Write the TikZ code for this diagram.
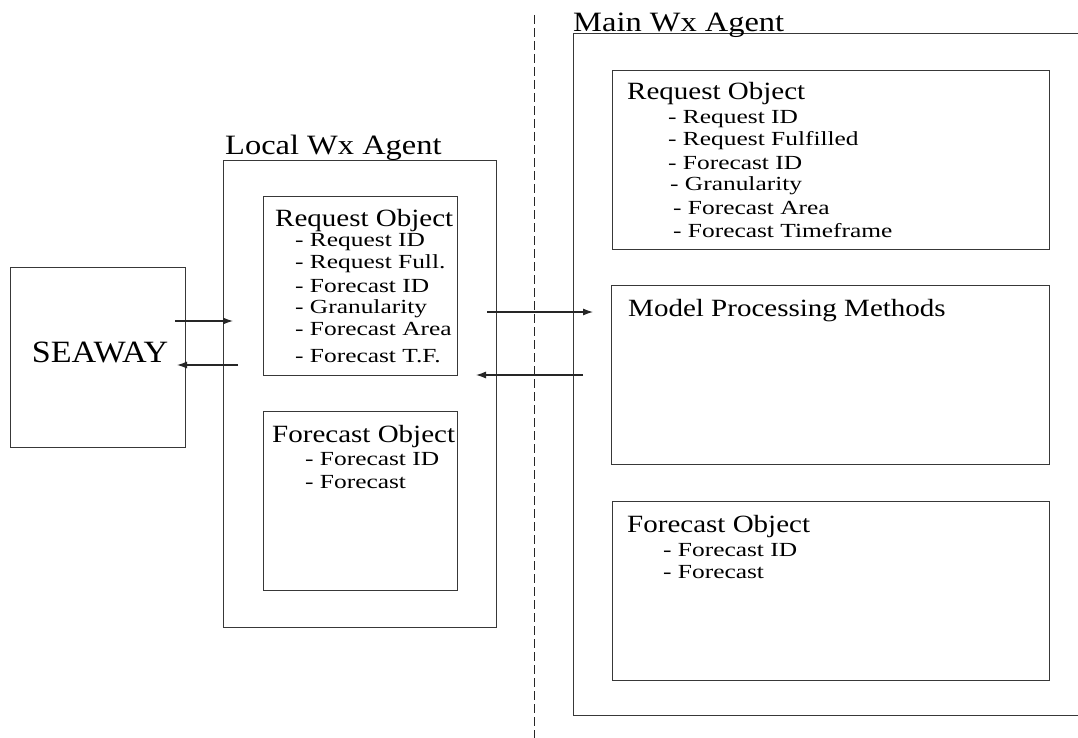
\documentclass[tikz,border=0pt]{standalone}
\usepackage{fontspec}
\setmainfont{Liberation Serif}
\newfontfamily\titlef[FakeStretch=1.16]{Liberation Serif}
\newfontfamily\headf[FakeStretch=1.17]{Liberation Serif}
\newfontfamily\itemf[FakeStretch=1.27]{Liberation Serif}
\newfontfamily\seaf[FakeStretch=1.1]{Liberation Serif}
\usetikzlibrary{arrows.meta}
\begin{document}
\begin{tikzpicture}[x=1pt,y=-1pt,
  boxn/.style={draw=black!78, line width=1.1pt, inner sep=0pt, anchor=north west},
  ttl/.style={anchor=base west, inner sep=0pt, font=\titlef\fontsize{28}{31}\selectfont},
  hd/.style={anchor=base west, inner sep=0pt, font=\headf\fontsize{24.8}{27}\selectfont},
  itm/.style={anchor=base west, inner sep=0pt, font=\itemf\fontsize{20}{22}\selectfont},
  sea/.style={anchor=base, inner sep=0pt, font=\seaf\fontsize{31}{34}\selectfont},
  conn/.style={draw=black!85, line width=1.1pt, -{Latex[length=10pt,width=7pt]}},
  divider/.style={draw=black!85, line width=1pt, dash pattern=on 9pt off 4pt}]

\useasboundingbox (0,0) rectangle (1078,738);
\clip (0,0) rectangle (1078,738);
\fill[white] (0,0) rectangle (1078,738);

% SEAWAY
\node[boxn, minimum width=175pt, minimum height=180pt] (seaway) at (10,267) {};
\node[sea] (seawaytext) at (100,362) {SEAWAY};

% Local Wx Agent
\node[boxn, minimum width=273pt, minimum height=467pt] (local) at (223,160) {};
\node[ttl] (localtitle) at (225,155) {Local Wx Agent};
\node[boxn, minimum width=194pt, minimum height=179pt] (localreq) at (263,196) {};
\node[hd] (lrh) at (275,226) {Request Object};
\node[itm] (lr1) at (295,246) {- Request ID};
\node[itm] (lr2) at (295,268) {- Request Full.};
\node[itm] (lr3) at (295,292) {- Forecast ID};
\node[itm] (lr4) at (295,313) {- Granularity};
\node[itm] (lr5) at (295,335) {- Forecast Area};
\node[itm] (lr6) at (295,362) {- Forecast T.F.};
\node[boxn, minimum width=194pt, minimum height=179pt] (localfc) at (263,411) {};
\node[hd] (lfh) at (272,442) {Forecast Object};
\node[itm] (lf1) at (305,465) {- Forecast ID};
\node[itm] (lf2) at (305,488) {- Forecast};

% divider
\coordinate (dtop) at (534,15);
\coordinate (dbot) at (534,738);
\draw[divider] (dtop) -- (dbot);

% Main Wx Agent
\node[boxn, minimum width=540pt, minimum height=682pt] (main) at (573,33) {};
\node[ttl] (maintitle) at (573,32) {Main Wx Agent};
\node[boxn, minimum width=437pt, minimum height=179pt] (mainreq) at (612,70) {};
\node[hd] (mrh) at (627,100) {Request Object};
\node[itm] (mr1) at (668,124) {- Request ID};
\node[itm] (mr2) at (668,146) {- Request Fulfilled};
\node[itm] (mr3) at (668,170) {- Forecast ID};
\node[itm] (mr4) at (670,190) {- Granularity};
\node[itm] (mr5) at (673,214) {- Forecast Area};
\node[itm] (mr6) at (673,237) {- Forecast Timeframe};
\node[boxn, minimum width=438pt, minimum height=179pt] (model) at (611,285) {};
\node[hd] (mph) at (628,316) {Model Processing Methods};
\node[boxn, minimum width=437pt, minimum height=179pt] (mainfc) at (612,501) {};
\node[hd] (mfh) at (627,532) {Forecast Object};
\node[itm] (mf1) at (663,556) {- Forecast ID};
\node[itm] (mf2) at (663,578) {- Forecast};

% connectors
\coordinate (a1s) at (175,321); \coordinate (a1e) at (233,321);
\coordinate (a2s) at (238,365); \coordinate (a2e) at (177,365);
\coordinate (a3s) at (487,312); \coordinate (a3e) at (593,312);
\coordinate (a4s) at (583,375); \coordinate (a4e) at (476,375);
\draw[conn] (a1s) -- (a1e);
\draw[conn] (a2s) -- (a2e);
\draw[conn] (a3s) -- (a3e);
\draw[conn] (a4s) -- (a4e);
\end{tikzpicture}
\end{document}
